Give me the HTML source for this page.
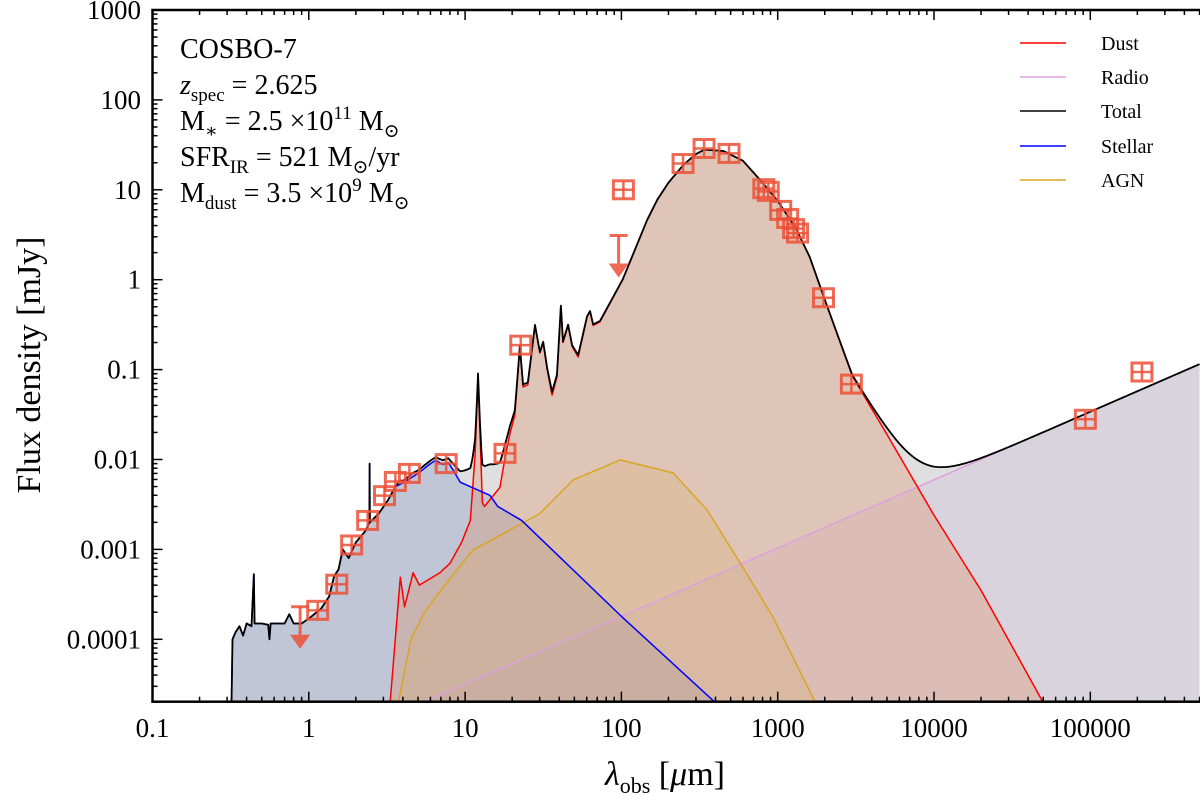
<!DOCTYPE html>
<html><head><meta charset="utf-8"><style>
html,body{margin:0;padding:0;background:#fff;}
svg{display:block;font-family:"Liberation Serif","DejaVu Serif",serif;}
</style></head><body>
<svg id="chart" width="1200" height="797" viewBox="0 0 1200 797" xmlns="http://www.w3.org/2000/svg">
<defs><clipPath id="pc"><rect x="152.5" y="10" width="1047.5" height="691.7"/></clipPath></defs>
<g id="fills" clip-path="url(#pc)"></g>
<g id="lines" clip-path="url(#pc)"></g>
<g id="points"></g>
<g id="axes"></g>
<g font-size="28" fill="#000">
<text x="180" y="58">COSBO-7</text>
<text x="180" y="94"><tspan font-style="italic">z</tspan><tspan font-size="19" dy="7">spec</tspan><tspan dy="-7"> = 2.625</tspan></text>
<text x="180" y="130">M<tspan font-size="19" dy="7">∗</tspan><tspan dy="-7"> = 2.5 ×10</tspan><tspan font-size="19" dy="-11">11</tspan><tspan dy="11"> M</tspan><tspan font-size="19" dy="7">⊙</tspan></text>
<text x="180" y="166">SFR<tspan font-size="19" dy="7">IR</tspan><tspan dy="-7"> = 521 M</tspan><tspan font-size="19" dy="7">⊙</tspan><tspan dy="-7">/yr</tspan></text>
<text x="180" y="202">M<tspan font-size="19" dy="7">dust</tspan><tspan dy="-7"> = 3.5 ×10</tspan><tspan font-size="19" dy="-11">9</tspan><tspan dy="11"> M</tspan><tspan font-size="19" dy="7">⊙</tspan></text>
</g>
<g font-size="20">
<line x1="1020" y1="43" x2="1066" y2="43" stroke="#ff0000" stroke-width="1.5"/><text x="1101" y="50">Dust</text>
<line x1="1020" y1="77" x2="1066" y2="77" stroke="#dda0dd" stroke-width="1.5"/><text x="1101" y="84">Radio</text>
<line x1="1020" y1="111" x2="1066" y2="111" stroke="#000" stroke-width="1.5"/><text x="1101" y="118">Total</text>
<line x1="1020" y1="146" x2="1066" y2="146" stroke="#0000ff" stroke-width="1.5"/><text x="1101" y="153">Stellar</text>
<line x1="1020" y1="180" x2="1066" y2="180" stroke="#daa520" stroke-width="1.5"/><text x="1101" y="187">AGN</text>
</g>
<text x="40" y="365" font-size="34" text-anchor="middle" transform="rotate(-90 40 365)">Flux density [mJy]</text>
<text x="665" y="785" font-size="34" text-anchor="middle"><tspan font-style="italic">λ</tspan><tspan font-size="22" dy="8">obs</tspan><tspan dy="-8"> [</tspan><tspan font-style="italic">μ</tspan><tspan>m]</tspan></text>
</svg>
<script>
const stellarLam=[0.32,0.325,0.34,0.36,0.38,0.40,0.43,0.445,0.45,0.5,0.55,0.56,0.57,0.7,0.75,0.8,0.9,1.0,1.2,1.35,1.45,1.55,1.65,1.8,2.0,2.3,2.44,2.45,2.46,2.8,3.2,3.6,4.0,5,6,6.5,7.2,7.8,8.4,9.3,14.4,16.2,23,101,409];
const stellarFlux=[1.8e-5,1e-4,1.2e-4,1.4e-4,1.1e-4,1.5e-4,1.4e-4,5.3e-4,1.5e-4,1.5e-4,1.45e-4,1.0e-4,1.5e-4,1.5e-4,1.9e-4,1.5e-4,1.5e-4,1.7e-4,2.2e-4,3e-4,5e-4,6e-4,1e-3,8e-4,1.2e-3,1.6e-3,2e-3,9e-3,2e-3,2.5e-3,3.5e-3,5e-3,5.5e-3,7e-3,9e-3,9.8e-3,8.8e-3,9.2e-3,7.6e-3,5.6e-3,4e-3,3e-3,2.1e-3,1.77e-4,1.9e-5];
const dustLam=[3.3,3.85,4.1,4.65,5.1,6.9,8,9.5,10.8,11.6,12.1,12.9,13.3,16.7,18,19.4,20.8,22.4,23.5,25.2,28,30.1,31.6,33.5,36,38.7,41,42.3,45.6,48.4,52.9,60.3,63,66,73,102,146,170,200,250,300,340,450,600,800,1000,1300,1600,2000,3000,5000,10000,20000,50600];
const dustFlux=[1.8e-5,4.9e-4,2.3e-4,5.5e-4,4e-4,5.5e-4,7e-4,1.2e-3,2.1e-3,0.0117,0.085,3.3e-3,3e-3,4.9e-3,0.0104,0.0197,0.031,0.178,0.064,0.068,0.31,0.153,0.2,0.1,0.052,0.083,0.51,0.2,0.31,0.18,0.138,0.385,0.44,0.31,0.34,1.0,4.6,7.8,12,19,25,28,27,21,12,7.5,3.8,1.8,0.6,0.085,0.019,0.0024,3.5e-4,1.9e-5];
const agnLam=[3.7,4.5,5.5,6.9,11.2,30,49,98,214,353,574,933,1738];
const agnFlux=[1.8e-5,1e-4,2e-4,3.4e-4,9.8e-4,2.5e-3,5.9e-3,9.9e-3,7.1e-3,2.75e-3,7.1e-4,1.77e-4,2e-5];
const radioLam=[5,100,3365,1e5,5e5];
const radioFlux=[1.9e-5,1.8e-4,2.6e-3,3.4e-2,0.115];
const detLam=[1.14,1.51,1.88,2.38,3.05,3.58,4.4,7.57,18,22.7,103,248,338,488,815,870,1045,1158,1264,1340,1963,2960,93000,214000];
const detFlux=[2.1e-4,4.1e-4,1.12e-3,2.1e-3,3.96e-3,5.7e-3,7e-3,9e-3,0.0117,0.187,10,19.6,28.8,25.4,10.3,9.6,5.9,4.8,3.7,3.3,0.63,0.069,0.028,0.094];
const limLam=[0.88,96];
const limFlux=[2.3e-4,3.1];
const xTickVals=[0.1,1,10,100,1000,10000,100000];
const xTickLabels=["0.1","1","10","100","1000","10000","100000"];
const yTickVals=[1000,100,10,1,0.1,0.01,0.001,0.0001];
const yTickLabels=["1000","100","10","1","0.1","0.01","0.001","0.0001"];

const NS="http://www.w3.org/2000/svg";
const X=l=>152.5+156.3*(Math.log10(l)+1);
const Y=f=>10+89.9*(3-Math.log10(f));
const BOT=701.7;
function mk(tag,attrs,parent){const e=document.createElementNS(NS,tag);for(const k in attrs)e.setAttribute(k,attrs[k]);parent.appendChild(e);return e;}
function interp(L,F,l){if(l<L[0]||l>L[L.length-1])return 0;for(let i=0;i<L.length-1;i++){if(l>=L[i]&&l<=L[i+1]){const t=(Math.log10(l)-Math.log10(L[i]))/(Math.log10(L[i+1])-Math.log10(L[i])||1);return Math.pow(10,Math.log10(F[i])+t*(Math.log10(F[i+1])-Math.log10(F[i])));}}return 0;}
let grid=[...stellarLam,...dustLam,...agnLam,...radioLam];
for(let lg=Math.log10(0.32);lg<=Math.log10(5e5);lg+=0.01)grid.push(Math.pow(10,lg));
grid=grid.filter(l=>l>=0.32&&l<=5e5).sort((a,b)=>a-b);
const totalLam=[],totalFlux=[];
grid.forEach(l=>{const f=interp(stellarLam,stellarFlux,l)+interp(dustLam,dustFlux,l)+interp(agnLam,agnFlux,l)+interp(radioLam,radioFlux,l);if(f>0){totalLam.push(l);totalFlux.push(f);}});
function pts(L,F){return L.map((l,i)=>X(l).toFixed(2)+","+Math.min(Y(F[i]),BOT+20).toFixed(2));}
function fillPath(L,F){const p=pts(L,F);return "M"+X(L[0]).toFixed(2)+","+(BOT+20)+" L"+p.join(" L")+" L"+X(L[L.length-1]).toFixed(2)+","+(BOT+20)+" Z";}
const fills=document.getElementById('fills'),lines=document.getElementById('lines');
const comps=[
 ["total",totalLam,totalFlux,"rgba(150,150,150,0.3)","#000"],
 ["radio",radioLam,radioFlux,"rgba(188,163,208,0.2)","#dda0dd"],
 ["stellar",stellarLam,stellarFlux,"rgba(99,123,187,0.25)","#0000ff"],
 ["dust",dustLam,dustFlux,"rgba(226,140,93,0.3)","#ff0000"],
 ["agn",agnLam,agnFlux,"rgba(216,174,108,0.25)","#daa520"]];
comps.forEach(c=>{
 const f=mk('path',{d:fillPath(c[1],c[2]),fill:c[3],stroke:"none"},fills);
 
 
});
["radio","agn","dust","stellar","total"].forEach(n=>{
 const c=comps.find(z=>z[0]===n);
 const l=mk('polyline',{points:pts(c[1],c[2]).join(" "),fill:"none",stroke:c[4],"stroke-width":n==="total"?1.8:1.5,"stroke-linejoin":"round"},lines);
 
 
});
const pg=document.getElementById('points');const MC="rgba(235,80,55,0.85)";
detLam.forEach((l,i)=>{const x=X(l),y=Y(detFlux[i]);
 const g=mk('g',{},pg);
 
 
 mk('rect',{x:x-10,y:y-9,width:20,height:18,fill:"none",stroke:MC,"stroke-width":3},g);
 mk('line',{x1:x-10,y1:y,x2:x+10,y2:y,stroke:MC,"stroke-width":2.5},g);
 mk('line',{x1:x,y1:y-8,x2:x,y2:y+8,stroke:MC,"stroke-width":2.5},g);
});
limLam.forEach((l,i)=>{const x=X(l),y=Y(limFlux[i]);
 const g=mk('g',{},pg);
 
 
 mk('line',{x1:x-9,y1:y,x2:x+9,y2:y,stroke:MC,"stroke-width":3},g);
 mk('line',{x1:x,y1:y,x2:x,y2:y+28,stroke:MC,"stroke-width":3},g);
 mk('path',{d:`M${x-10},${y+28} L${x+10},${y+28} L${x},${y+42} Z`,fill:MC},g);
});
const ax=document.getElementById('axes');
mk('rect',{x:152.5,y:10,width:1050,height:BOT-10,fill:"none",stroke:"#000","stroke-width":2.5},ax);
for(let d=-1;d<=5;d++)for(let m=1;m<=9;m++){const l=m*Math.pow(10,d);const x=X(l);if(x<152||x>1200)continue;const len=m===1?10:5;
 mk('line',{x1:x,y1:BOT,x2:x,y2:BOT-len,stroke:"#000","stroke-width":1.5},ax);
 mk('line',{x1:x,y1:10,x2:x,y2:10+len,stroke:"#000","stroke-width":1.5},ax);}
for(let d=-5;d<=2;d++)for(let m=1;m<=9;m++){const f=m*Math.pow(10,d);const y=Y(f);if(y<10||y>BOT)continue;const len=m===1?10:5;
 mk('line',{x1:152.5,y1:y,x2:152.5+len,y2:y,stroke:"#000","stroke-width":1.5},ax);}
xTickVals.forEach((v,i)=>{const t=mk('text',{x:X(v),y:737,"font-size":27,"text-anchor":"middle"},ax);t.textContent=xTickLabels[i];
 
 });
yTickVals.forEach((v,i)=>{const t=mk('text',{x:141,y:Y(v)+9,"font-size":27,"text-anchor":"end"},ax);t.textContent=yTickLabels[i];
 
 });
</script>
</body></html>
